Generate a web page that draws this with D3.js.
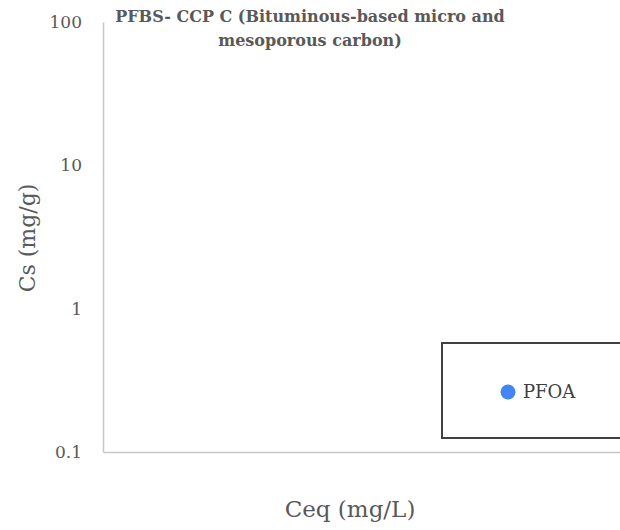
<!DOCTYPE html>
<html>
<head>
<meta charset="utf-8">
<script src="https://cdn.jsdelivr.net/npm/d3@7"></script>
<style>
  body { margin: 0; background: #fff; }
  text { font-family: "DejaVu Serif", "Liberation Serif", serif; }
</style>
</head>
<body>
<div id="chart"></div>
<script>
// Chart data
const titleLines = ["PFBS- CCP C (Bituminous-based micro and", "mesoporous carbon)"];
const seriesNames = ["PFOA"];
const pfoaCeq = [];   // no points fall inside the plotted range
const pfoaCs = [];
const yTicks = [0.1, 1, 10, 100];
const yTickLabels = ["0.1", "1", "10", "100"];

const W = 620, H = 530;
const margin = {top: 22, right: 0, bottom: 78, left: 103},
    width = W - margin.left - margin.right,
    height = H - margin.top - margin.bottom;

const svg = d3.select("#chart")
  .append("svg")
    .attr("width", W)
    .attr("height", H)
  .append("g")
    .attr("transform", `translate(${margin.left},${margin.top})`);

// Scales
const x = d3.scaleLinear()
    .domain([0, 1])
    .range([0, width]);
const y = d3.scaleLog()
    .domain([0.1, 100])
    .range([height, 0]);

// Y axis (labels only, light axis line)
const yAxis = svg.append("g")
    .call(d3.axisLeft(y).tickValues(yTicks).tickFormat((d, i) => yTickLabels[i]).tickSize(0).tickPadding(21));
yAxis.select(".domain").attr("stroke", "#c6c6c6").attr("stroke-width", 1.5);
yAxis.selectAll("text")
    .style("font-family", "DejaVu Serif, serif")
    .style("font-size", "17px")
    .attr("fill", "#595959");

// X axis (no ticks)
const xAxis = svg.append("g")
    .attr("transform", `translate(0,${height})`)
    .call(d3.axisBottom(x).tickValues([]).tickSize(0));
xAxis.select(".domain").attr("stroke", "#c6c6c6").attr("stroke-width", 1.5);

// Points (none visible)
svg.selectAll("circle.pt")
  .data(pfoaCeq.map((d, i) => [d, pfoaCs[i]]))
  .enter()
  .append("circle")
    .attr("class", "pt")
    .attr("cx", d => x(d[0]))
    .attr("cy", d => y(d[1]))
    .attr("r", 7)
    .style("fill", "#4285f4");

// Title
const title = svg.append("text")
    .attr("x", 207)
    .attr("y", 0)
    .attr("text-anchor", "middle")
    .style("font-size", "16px")
    .style("font-weight", "bold")
    .attr("fill", "#595959");
title.selectAll("tspan")
  .data(titleLines)
  .enter()
  .append("tspan")
    .attr("x", 207)
    .attr("dy", (d, i) => i === 0 ? 0 : 24)
    .text(d => d);

// Axis titles
svg.append("text")
    .attr("transform", "rotate(-90)")
    .attr("x", -216)
    .attr("y", -68)
    .attr("text-anchor", "middle")
    .style("font-size", "22px")
    .attr("fill", "#595959")
    .text("Cs (mg/g)");

svg.append("text")
    .attr("x", 247)
    .attr("y", 495)
    .attr("text-anchor", "middle")
    .style("font-size", "23px")
    .attr("fill", "#595959")
    .text("Ceq (mg/L)");

// Legend
const legend = svg.append("g")
    .attr("transform", `translate(${442 - margin.left},${343 - margin.top})`);
legend.append("rect")
    .attr("width", 190)
    .attr("height", 95)
    .attr("fill", "none")
    .attr("stroke", "#404040")
    .attr("stroke-width", 2);
legend.selectAll("circle")
  .data(seriesNames)
  .enter()
  .append("circle")
    .attr("cx", 66)
    .attr("cy", 49)
    .attr("r", 7.5)
    .style("fill", "#4285f4");
legend.selectAll("text")
  .data(seriesNames)
  .enter()
  .append("text")
    .attr("x", 81)
    .attr("y", 49)
    .attr("dy", "0.35em")
    .style("font-size", "18px")
    .attr("fill", "#404040")
    .text(d => d);
</script>
</body>
</html>
